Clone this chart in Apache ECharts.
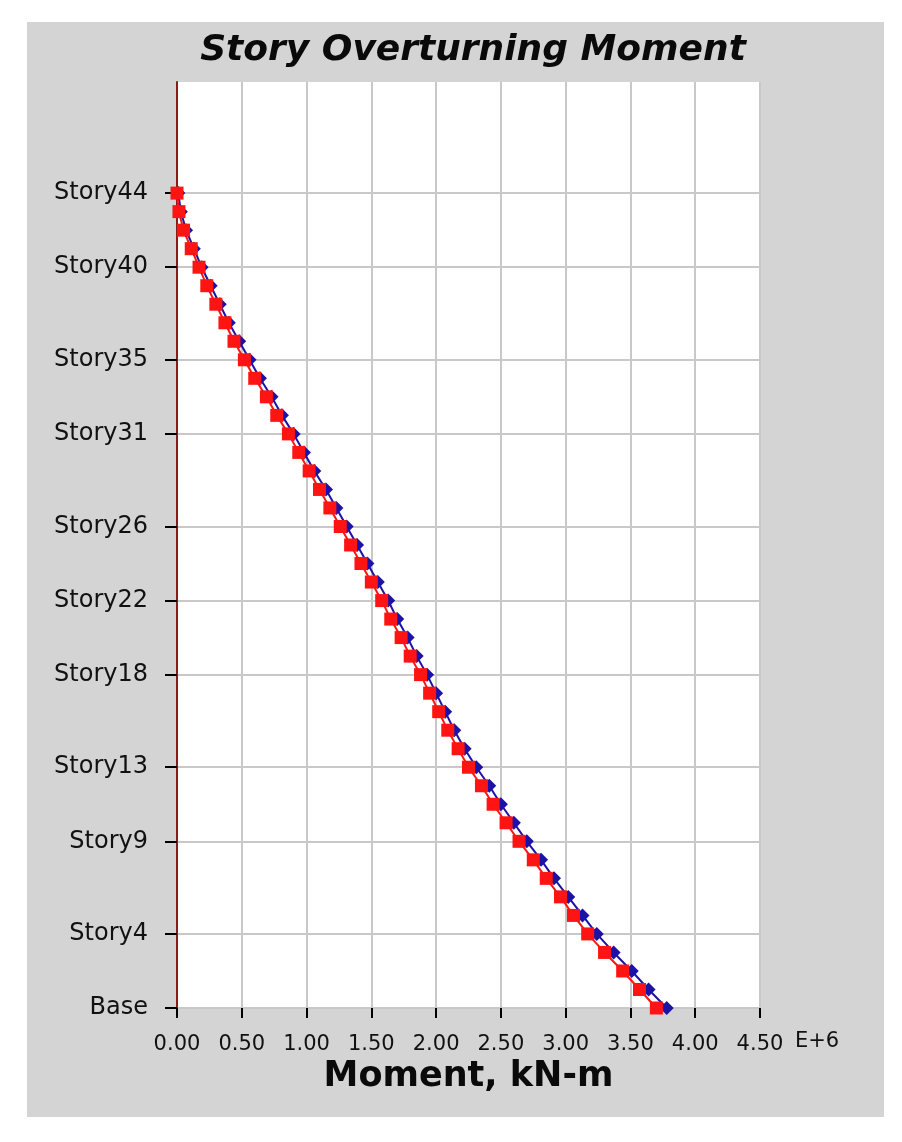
<!DOCTYPE html>
<html>
<head>
<meta charset="utf-8">
<title>Story Overturning Moment</title>
<script src="https://cdn.jsdelivr.net/npm/echarts@6.0.0/dist/echarts.min.js"></script>
<style>
    html, body { margin: 0; padding: 0; background: #fff; }
    #momentChart { width: 902px; height: 1142px; }
</style>
</head>
<body>
<div id="momentChart"></div>
<script>
    "use strict";

    // story levels, Base first; blanks keep the empty space above Story44
    var storyNames = ['Base'];
    for (var i = 1; i <= 44; i++) {
        storyNames.push('Story' + i);
    }
    var blankLevels = ['L45', 'L46', 'L47', 'L48', 'L49', 'L50'];
    var levels = storyNames.concat(blankLevels);

    // only these stories get a label, tick and grid line
    var shownStories = ['Base', 'Story4', 'Story9', 'Story13', 'Story18', 'Story22',
        'Story26', 'Story31', 'Story35', 'Story40', 'Story44'];

    var xTicks = [0, 0.5, 1, 1.5, 2, 2.5, 3, 3.5, 4, 4.5];

    // moment, E+6 kN-m, Base .. Story44
    var momentBlue = [3.78, 3.64, 3.51, 3.37, 3.24, 3.13, 3.02, 2.91, 2.81, 2.70,
        2.60, 2.50, 2.41, 2.31, 2.22, 2.14, 2.07, 2.00, 1.93, 1.85,
        1.78, 1.70, 1.63, 1.55, 1.47, 1.39, 1.31, 1.23, 1.15, 1.06,
        0.98, 0.90, 0.81, 0.73, 0.64, 0.56, 0.48, 0.40, 0.33, 0.26,
        0.19, 0.13, 0.07, 0.03, 0.01];
    var momentRed = [3.70, 3.57, 3.44, 3.30, 3.17, 3.06, 2.96, 2.85, 2.75, 2.64,
        2.54, 2.44, 2.35, 2.25, 2.17, 2.09, 2.02, 1.95, 1.88, 1.80,
        1.73, 1.65, 1.58, 1.50, 1.42, 1.34, 1.26, 1.18, 1.10, 1.02,
        0.94, 0.86, 0.77, 0.69, 0.60, 0.52, 0.44, 0.37, 0.30, 0.23,
        0.17, 0.11, 0.05, 0.015, 0];

    var fontFamily = 'DejaVu Sans';

    function isShown(index, value) {
        return shownStories.indexOf(levels[index]) >= 0;
    }

    var momentChart = echarts.init(document.getElementById('momentChart'));

    var option = {
        backgroundColor: '#ffffff',
        animation: false,
        title: {
            text: 'Story Overturning Moment',
            left: 468,
            textAlign: 'center',
            top: 28,
            textStyle: {
                fontFamily: fontFamily,
                fontSize: 36,
                fontWeight: 'bold',
                fontStyle: 'italic',
                color: '#0a0a0a'
            }
        },
        graphic: [
            {
                type: 'rect',
                z: -10,
                shape: { x: 27, y: 22, width: 857, height: 1095 },
                style: { fill: '#d4d4d4' }
            },
            {
                type: 'text',
                left: 795,
                top: 1031,
                style: {
                    text: 'E+6',
                    font: '21px "DejaVu Sans"',
                    fill: '#111'
                }
            }
        ],
        grid: {
            left: 177,
            top: 82,
            width: 583,
            height: 926,
            show: true,
            backgroundColor: '#ffffff',
            borderWidth: 0
        },
        xAxis: {
            type: 'value',
            min: 0,
            max: 4.5,
            interval: 0.5,
            name: 'Moment, kN-m',
            nameLocation: 'middle',
            nameGap: 48,
            nameTextStyle: {
                fontFamily: fontFamily,
                fontSize: 35,
                fontWeight: 'bold',
                color: '#0a0a0a'
            },
            axisLine: {
                lineStyle: {
                    color: '#8b1a1a',
                    width: 2
                }
            },
            axisTick: {
                show: true,
                length: 10,
                lineStyle: {
                    color: '#000',
                    width: 2
                }
            },
            axisLabel: {
                margin: 26,
                fontFamily: fontFamily,
                fontSize: 21,
                color: '#111',
                formatter: function (v) {
                    return v.toFixed(2);
                }
            },
            splitLine: {
                show: true,
                lineStyle: {
                    color: '#c8c8c8',
                    width: 2
                }
            }
        },
        yAxis: {
            type: 'category',
            data: levels,
            boundaryGap: false,
            axisLine: {
                onZero: false,
                lineStyle: {
                    color: '#8b1a1a',
                    width: 2
                }
            },
            axisTick: {
                show: true,
                length: 12,
                interval: isShown,
                lineStyle: {
                    color: '#000',
                    width: 2
                }
            },
            axisLabel: {
                margin: 29,
                interval: isShown,
                fontFamily: fontFamily,
                fontSize: 24,
                color: '#111'
            },
            splitLine: {
                show: true,
                interval: isShown,
                lineStyle: {
                    color: '#c8c8c8',
                    width: 2
                }
            }
        },
        series: [{
            name: 'Blue',
            type: 'line',
            data: momentBlue,
            symbol: 'diamond',
            symbolSize: 14,
            showAllSymbol: true,
            itemStyle: {
                color: '#1c12a6'
            },
            lineStyle: {
                color: '#1c12a6',
                width: 2
            }
        }, {
            name: 'Red',
            type: 'line',
            data: momentRed,
            symbol: 'rect',
            symbolSize: 13,
            showAllSymbol: true,
            itemStyle: {
                color: '#ff1414'
            },
            lineStyle: {
                color: '#ff1414',
                width: 2
            }
        }]
    };

    momentChart.setOption(option);
</script>
</body>
</html>
